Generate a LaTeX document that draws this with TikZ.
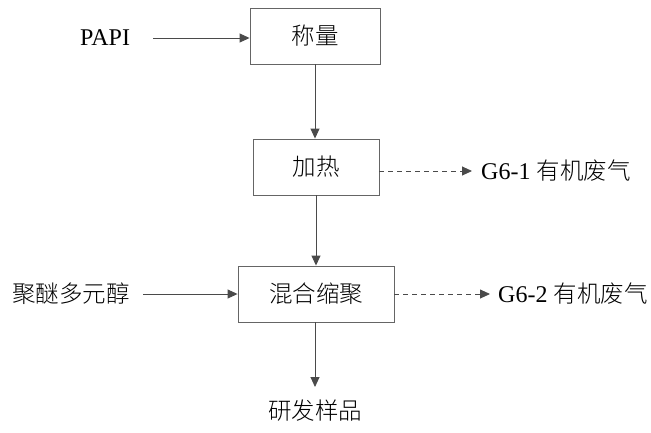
\documentclass[tikz,border=0pt]{standalone}
\usepackage{fontspec}
\setmainfont{Liberation Serif}
\newfontfamily\cjk{Noto Sans CJK SC Light}
\usetikzlibrary{arrows.meta}
\definecolor{ln}{HTML}{4A4A4A}
\tikzset{
  procbox/.style={draw=ln!85, line width=0.9pt, minimum width=#1, minimum height=56pt, inner sep=0pt, font=\fontsize{23.5}{26}\selectfont\cjk},
  flow/.style={draw=ln, line width=0.9pt, -{Triangle[length=10pt,width=9pt]}},
  waste/.style={flow, dash pattern=on 5pt off 4pt},
  lbl/.style={inner sep=0pt, anchor=west, font=\fontsize{24}{26}\selectfont},
}
\begin{document}
\begin{tikzpicture}[x=1pt,y=-1pt]
\useasboundingbox (0,0) rectangle (651,432);
\node[procbox=130pt] (b1) at (315,36) {称量};
\node[procbox=126pt] (b2) at (316,167) {加热};
\node[procbox=156pt] (b3) at (316,294) {混合缩聚};
\node[lbl] (papi) at (80,38) {PAPI};
\node[lbl] (pe) at (12,294) {\cjk\fontsize{23.5}{26}\selectfont 聚醚多元醇};
\node[lbl] (g1) at (481,171) {G6-1 {\cjk\fontsize{23.5}{26}\selectfont 有机废气}};
\node[lbl] (g2) at (498,294) {G6-2 {\cjk\fontsize{23.5}{26}\selectfont 有机废气}};
\node[inner sep=0pt, font=\fontsize{23.5}{26}\selectfont\cjk] (out) at (315,411) {研发样品};
\coordinate (papiE) at (153,38);
\coordinate (peE) at (143,294);
\coordinate (outT) at (315,387);
\coordinate (g1T) at (472,171);
\coordinate (g2T) at (490,294);
\draw[flow] (papiE) -- (b1.west |- papiE);
\draw[flow] (b1.south -| 315,0) -- (b2.north -| 315,0);
\draw[flow] (b2.south -| 316,0) -- (b3.north -| 316,0);
\draw[flow] (peE) -- (b3.west |- peE);
\draw[flow] (b3.south -| 315,0) -- (outT);
\draw[waste] (b2.east |- g1T) -- (g1T);
\draw[waste] (b3.east |- g2T) -- (g2T);
\end{tikzpicture}
\end{document}
